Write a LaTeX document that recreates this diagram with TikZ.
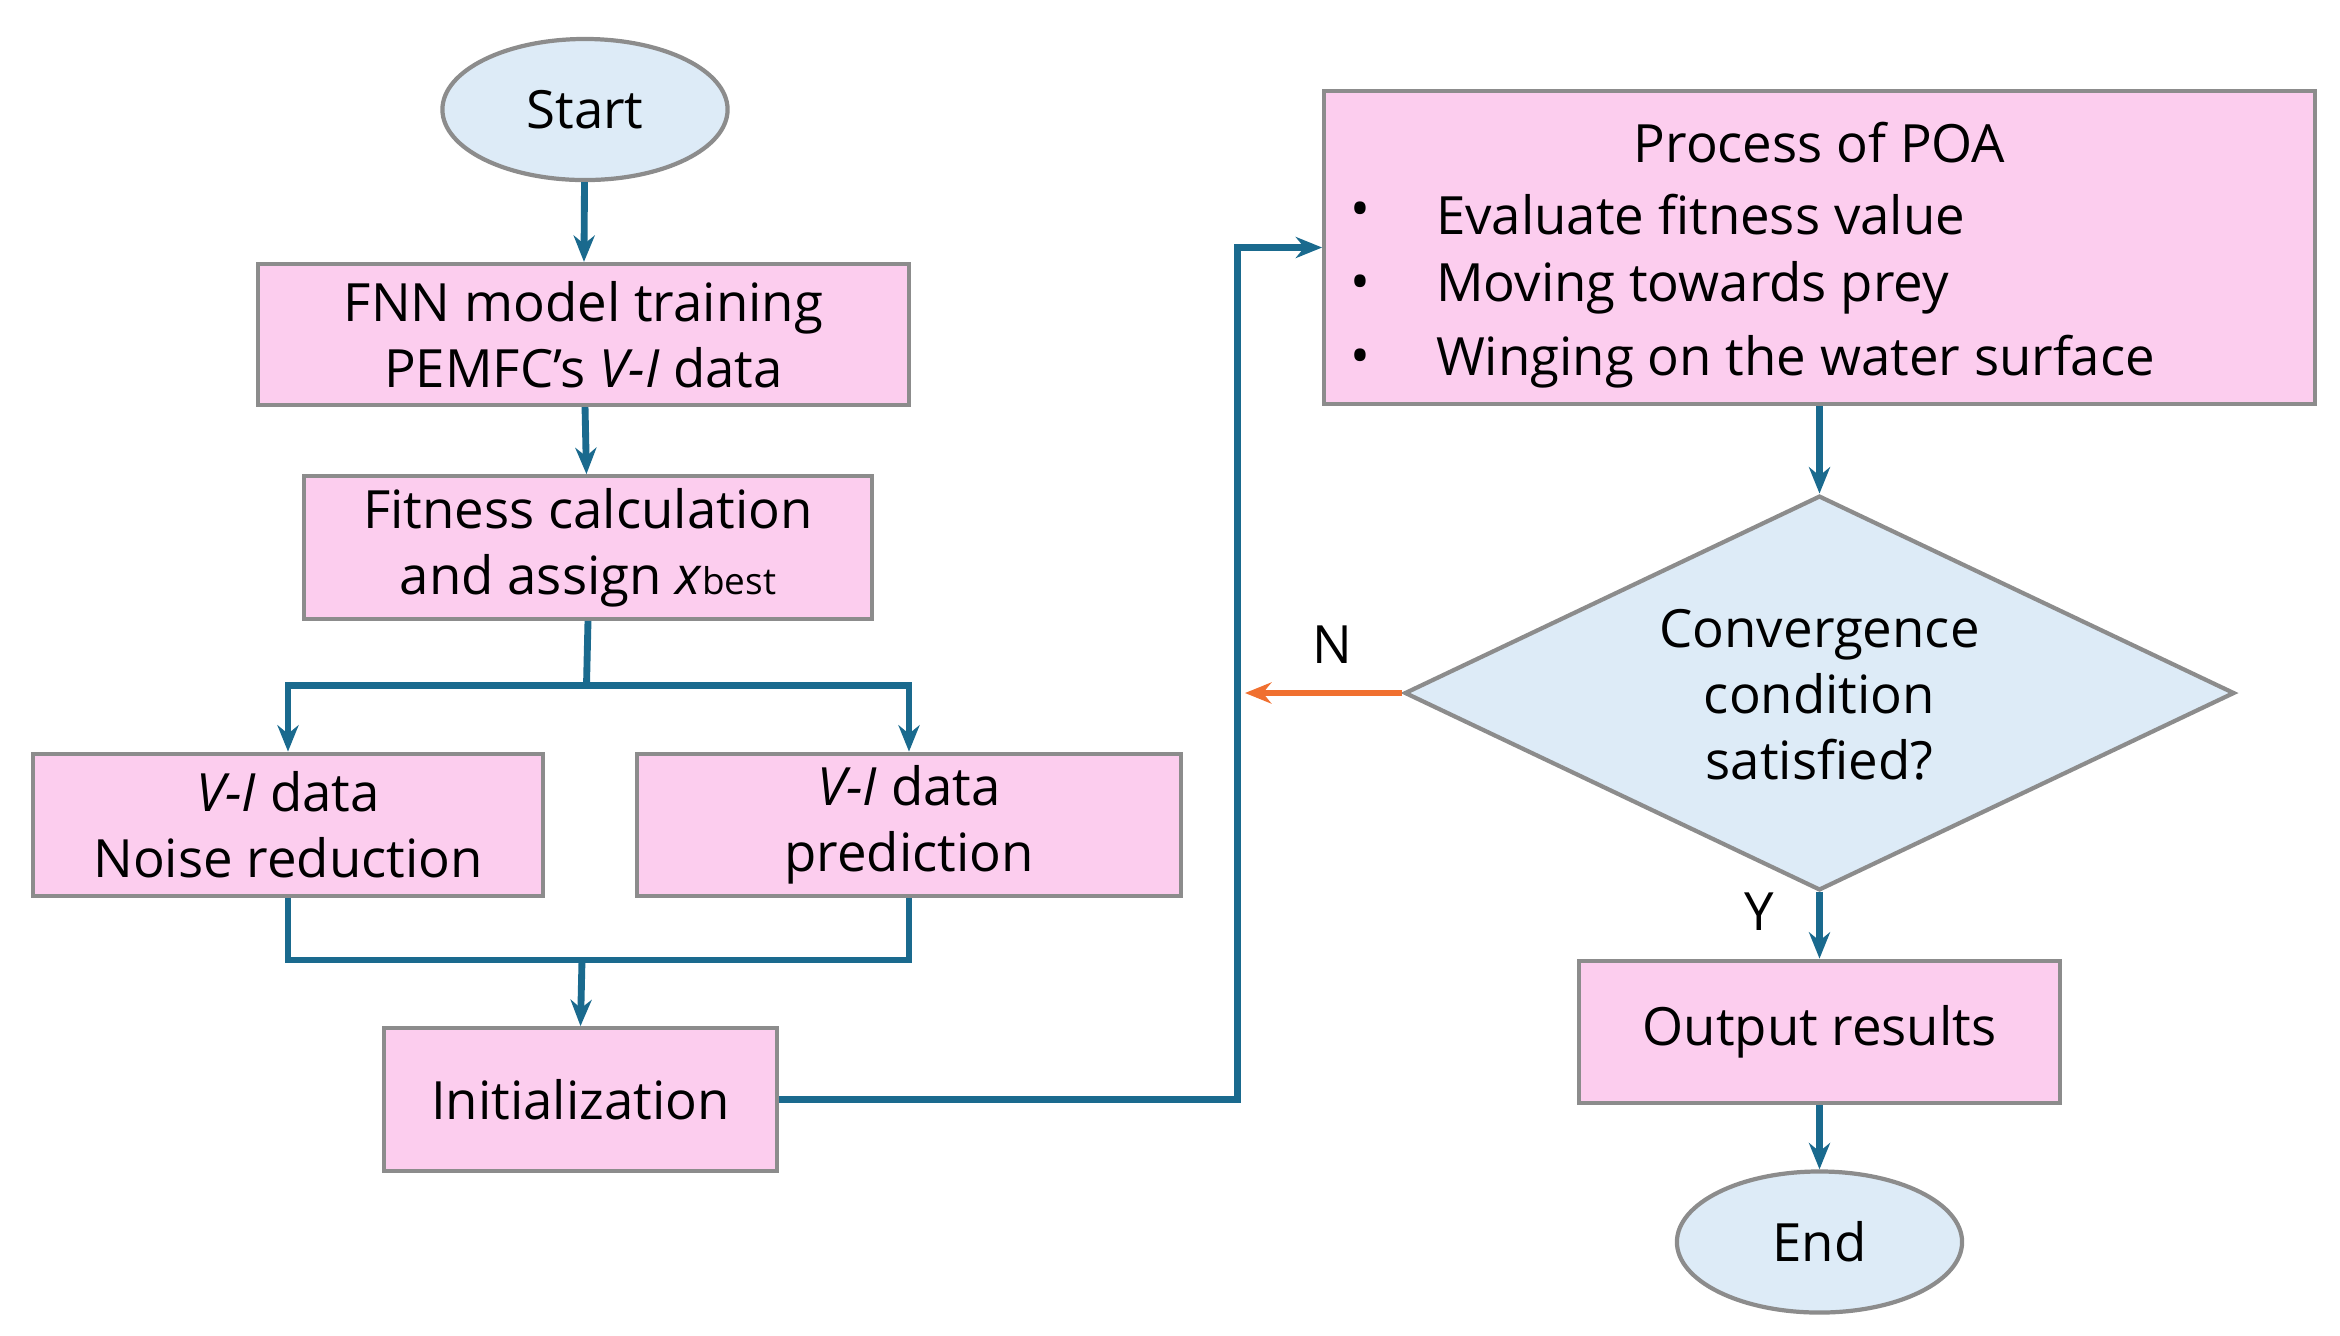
\documentclass[tikz,border=0pt]{standalone}
\usepackage{fontspec}
\setmainfont{Open Sans}
\usetikzlibrary{shapes.geometric,arrows.meta}
\definecolor{pk}{HTML}{FCCDEE}
\definecolor{lb}{HTML}{DDEBF7}
\definecolor{bd}{HTML}{8C8C8C}
\definecolor{ar}{HTML}{1A6A8E}
\definecolor{or}{HTML}{F07030}
\begin{document}
\begin{tikzpicture}[x=0.01cm,y=-0.01cm,font=\fontsize{10}{12.5}\selectfont,
 box/.style={draw=bd,line width=0.8pt,fill=pk,align=center,inner sep=0pt},
 term/.style={ellipse,draw=bd,line width=0.8pt,fill=lb,inner sep=0pt},
 con/.style={draw=ar,line width=1.3pt,-{Stealth[length=5pt,width=4pt]}},
 line/.style={draw=ar,line width=1.3pt}]
\useasboundingbox (0,0) rectangle (1560,890);
\node[term,minimum width=190\pgflinewidth*0+1.9cm,minimum height=0.94cm] (start) at (390,73) {Start};
\node[box,minimum width=4.34cm,minimum height=0.94cm] (fnn) at (389,223) {FNN model training\\PEMFC’s \textit{V-I} data};
\node[box,minimum width=3.78cm,minimum height=0.95cm] (fit) at (392,365) {Fitness calculation\\and assign \textit{x}{\fontsize{7}{8}\selectfont best}};
\node[box,minimum width=3.40cm,minimum height=0.95cm] (noise) at (192,550) {\textit{V-I} data\\Noise reduction};
\node[box,minimum width=3.62cm,minimum height=0.95cm] (pred) at (606,550) {\textit{V-I} data\\prediction};
\node[box,minimum width=2.62cm,minimum height=0.95cm] (init) at (387,733) {Initialization};
\node[box,minimum width=6.60cm,minimum height=2.09cm] (poa) at (1213,165) {};
\node at (1213,95) {Process of POA};
\foreach \y/\t in {143/Evaluate fitness value,192/Moving towards prey,241/Winging on the water surface}{
  \node at (907,\y) {•};
  \node[anchor=west] at (945,\y) {\t};}
\node[diamond,draw=bd,line width=0.8pt,fill=lb,minimum width=5.53cm,minimum height=2.63cm,inner sep=0pt,aspect=2.1,align=center] (conv) at (1213,462) {};
\node[align=center] at (1213,463) {Convergence\\condition\\satisfied?};
\node[box,minimum width=3.20cm,minimum height=0.95cm] (out) at (1213,688) {Output results};
\node[term,minimum width=1.9cm,minimum height=0.94cm] (end) at (1213,828) {End};
\coordinate (s1) at (391,457);
\coordinate (m1) at (388,640);
\coordinate (c1) at (825,733);
\coordinate (c2) at (825,165);
\coordinate (nn) at (830,462);
\draw[con] (start) -- (fnn);
\draw[con] (fnn) -- (fit);
\draw[line] (fit.south) -- (s1);
\draw[con] (s1) -| (noise.north);
\draw[con] (s1) -| (pred.north);
\draw[line] (noise.south) |- (m1) -| (pred.south);
\draw[con] (m1) -- (init.north);
\draw[con] (init.east) -- (c1) -- (c2) -- (poa.west);
\draw[con] (poa.south) -- (conv.north);
\draw[draw=or,line width=1.3pt,-{Stealth[length=5pt,width=4pt]}] (conv.west) -- (nn);
\node at (888,430) {N};
\node at (1173,608) {Y};
\draw[con] (conv.south) -- (out.north);
\draw[con] (out) -- (end);
\end{tikzpicture}
\end{document}
